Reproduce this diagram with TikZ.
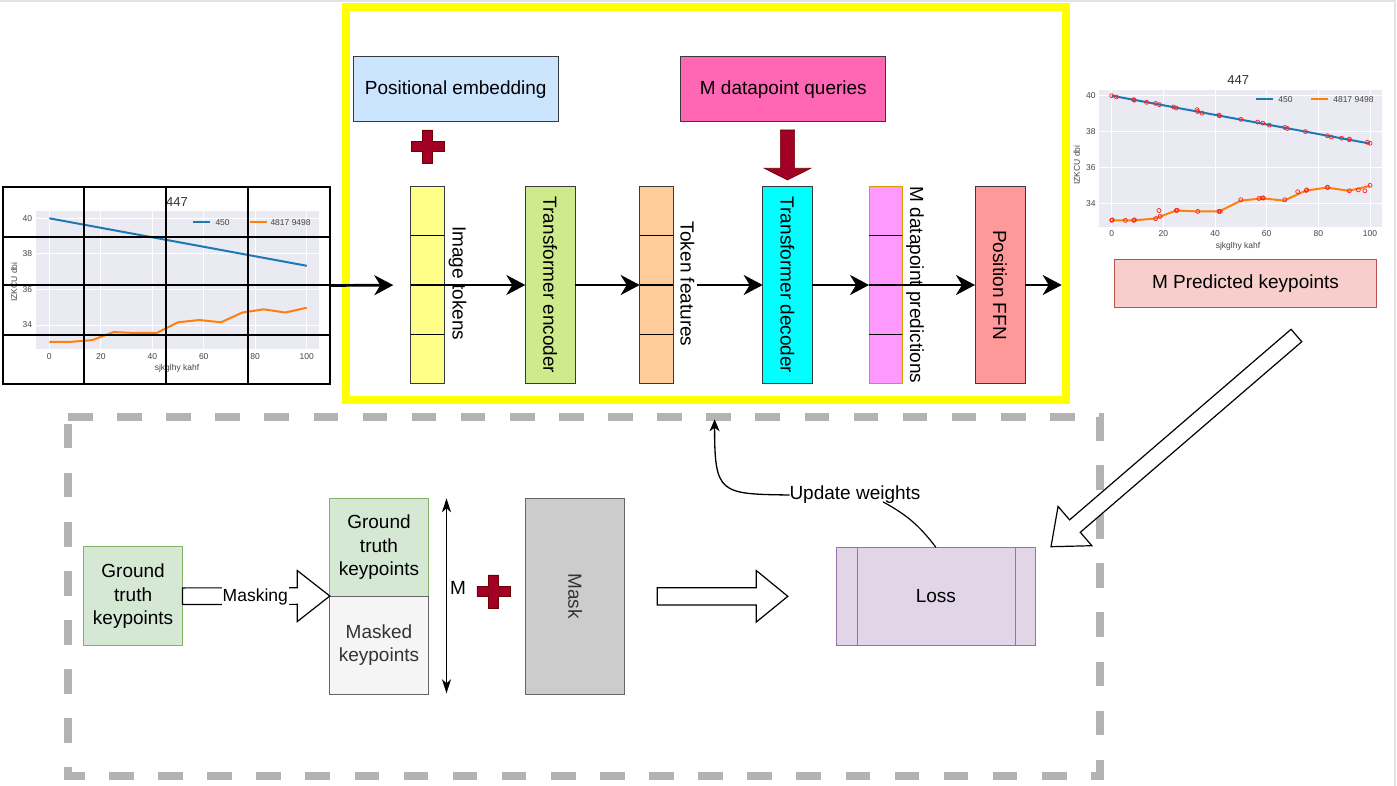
\documentclass[tikz,border=0pt]{standalone}
\usepackage{fontspec}
\setmainfont{Liberation Sans}
\usetikzlibrary{arrows.meta,calc}
\definecolor{strokegray}{HTML}{36393D}
\definecolor{posblue}{HTML}{CCE5FF}
\definecolor{qpink}{HTML}{FF66B3}
\definecolor{tokyellow}{HTML}{FFFF88}
\definecolor{encgreen}{HTML}{CDEB8B}
\definecolor{tforange}{HTML}{FFCC99}
\definecolor{deccyan}{HTML}{00FFFF}
\definecolor{predpink}{HTML}{FF99FF}
\definecolor{predline}{HTML}{D79B00}
\definecolor{ffnred}{HTML}{FF9999}
\definecolor{darkred}{HTML}{A20025}
\definecolor{darkredline}{HTML}{6F0000}
\definecolor{pkfill}{HTML}{F8CECC}
\definecolor{pkline}{HTML}{B85450}
\definecolor{gtfill}{HTML}{D5E8D4}
\definecolor{gtline}{HTML}{82B366}
\definecolor{mkfill}{HTML}{F5F5F5}
\definecolor{midgray}{HTML}{666666}
\definecolor{darktext}{HTML}{333333}
\definecolor{maskfill}{HTML}{CCCCCC}
\definecolor{lossfill}{HTML}{E1D5E7}
\definecolor{lossline}{HTML}{9673A6}
\definecolor{dashgray}{HTML}{B3B3B3}
\definecolor{plotbg}{HTML}{EAEAF2}
\definecolor{mplblue}{HTML}{1F77B4}
\definecolor{mplorange}{HTML}{FF7F0E}
\definecolor{ticktext}{HTML}{444444}
\definecolor{edgegray}{HTML}{E2E2E2}
\definecolor{frameyellow}{HTML}{FFFF00}
\definecolor{markred}{HTML}{FF2020}

\newcommand\blockarrow[6][blockstyle]{%
  \coordinate (ba-n) at ($(#3)!#6!(#2)$);
  \draw[#1] ($(#2)!#4!90:(#3)$) -- ($(ba-n)!#4!90:(#3)$) -- ($(ba-n)!#5!90:(#3)$) -- (#3)
    -- ($(ba-n)!#5!-90:(#3)$) -- ($(ba-n)!#4!-90:(#3)$) -- ($(#2)!#4!-90:(#3)$) -- cycle;
}
\newcommand\tokcol[5]{%
  \node[draw=#4, fill=#3, line width=1pt, minimum width=#5, minimum height=196.6pt] (#1) at (#2,285) {};
  \foreach \f in {0.25,0.5,0.75}
    \draw[line width=1.2pt] ($(#1.north west)!\f!(#1.south west)$) -- ($(#1.north east)!\f!(#1.south east)$);
}
\newcommand\redplus[2]{%
  \fill[darkred, draw=darkredline, line width=0.6pt]
    (#1-16.5,#2-5.2) -- (#1-5.2,#2-5.2) -- (#1-5.2,#2-16.5) -- (#1+5.2,#2-16.5) -- (#1+5.2,#2-5.2)
    -- (#1+16.5,#2-5.2) -- (#1+16.5,#2+5.2) -- (#1+5.2,#2+5.2) -- (#1+5.2,#2+16.5) -- (#1-5.2,#2+16.5)
    -- (#1-5.2,#2+5.2) -- (#1-16.5,#2+5.2) -- cycle;
}

\begin{document}
\begin{tikzpicture}[x=1pt,y=-1pt,
  every node/.style={inner sep=0pt, outer sep=0pt},
  lbl/.style={font=\fontsize{19}{23.3}\selectfont},
  box/.style={draw=strokegray, line width=1pt, lbl},
  flow/.style={line width=2.7pt, -{Stealth[length=19pt,width=20pt,inset=6pt]}},
  thinarrow/.style={line width=1.3pt, -{Stealth[length=12pt,width=10pt,inset=3.5pt]}},
  blockstyle/.style={draw=black, fill=white, line width=1.2pt, line join=miter},
  redblock/.style={draw=darkredline, fill=darkred, line width=0.6pt},
  ticklbl/.style={font=\fontsize{8.5}{10}\selectfont, text=ticktext},
  chartttl/.style={font=\fontsize{13}{15}\selectfont, text=darktext},
  gridw/.style={white, line width=0.9pt},
  series/.style={line width=2pt},
  legline/.style={line width=2.4pt},
  mk/.style={draw=markred, line width=0.7pt}
]
\useasboundingbox (0,0) rectangle (1397,786);
\fill[white] (0,0) rectangle (1397,786);
\draw[edgegray, line width=1.5pt] (0,1.2) -- (1394.8,1.2) -- (1394.8,786);

% ---------------- left chart ----------------
\node[draw=black, line width=1.5pt, minimum width=327pt, minimum height=197pt] (chartL) at (166.5,285.5) {};
\begin{scope}[shift={(49.3,929.5)}, x={(2.574pt,0pt)}, y={(0pt,17.78pt)}]
  \fill[plotbg] (-5.17,32.63) rectangle (104.78,40.41);
  \foreach \v in {0,20,...,100} \draw[gridw] (\v,32.63) -- (\v,40.41);
  \foreach \w in {34,36,38,40} \draw[gridw] (-5.17,\w) -- (104.78,\w);
  \draw[series, mplblue] (0,40) -- (100,37.33);
  \draw[series, mplorange] plot coordinates {(0,33.05) (8.3,33.05) (16.7,33.15) (25,33.6) (33.3,33.55) (41.7,33.55) (50,34.15) (58.3,34.28) (66.7,34.15) (75,34.7) (83.3,34.88) (91.7,34.7) (100,34.97)};
  \foreach \v in {0,20,...,100} \node[ticklbl] at (\v,32.22) {\v};
  \foreach \w in {34,36,38,40} \node[ticklbl, anchor=east] at (-6.7,\w) {\w};
\end{scope}
\node[chartttl] (ttlL) at (177,201.7) {447};
\node[ticklbl] (xlL) at (177,368) {sjkglhy kahf};
\node[ticklbl, rotate=90] (ylL) at (14,282) {IZKCU dbi};
\draw[legline, mplblue] (192.7,222.3) -- (210,222.3);
\node[ticklbl, anchor=west] (lg1L) at (215.5,222.3) {450};
\draw[legline, mplorange] (250,222.3) -- (266.7,222.3);
\node[ticklbl, anchor=west] (lg2L) at (270.5,222.3) {4817 9498};
\foreach \gx in {84,165.7,247.7} \draw[line width=2pt] (\gx,187) -- (\gx,384);
\foreach \gy in {236.7,285.5,335} \draw[line width=2pt] (3,\gy) -- (330,\gy);

% ---------------- right chart ----------------
\begin{scope}[shift={(1111.7,813.3)}, x={(2.583pt,0pt)}, y={(0pt,17.94pt)}]
  \fill[plotbg] (-4.8,32.70) rectangle (104.5,40.32);
  \foreach \v in {0,20,...,100} \draw[gridw] (\v,32.70) -- (\v,40.32);
  \foreach \w in {34,36,38,40} \draw[gridw] (-4.8,\w) -- (104.5,\w);
  \draw[series, mplblue] (0,40) -- (100,37.33);
  \draw[series, mplorange] plot coordinates {(0,33.05) (8.3,33.05) (16.7,33.15) (25,33.6) (33.3,33.55) (41.7,33.55) (50,34.15) (58.3,34.28) (66.7,34.15) (75,34.7) (83.3,34.88) (91.7,34.7) (100,34.97)};
  \foreach \p in {(0,40.0),(1.8,39.93),(8.5,39.78),(8.7,39.75),(13.5,39.63),(17,39.57),(18.5,39.5),(24,39.37),(25,39.31),(33,39.22),(33.3,39.12),(35,39.03),(41.5,38.92),(41.7,38.88),(50,38.68),(56.5,38.53),(58.5,38.47),(61,38.36),(67,38.23),(68,38.17),(75,38.0),(83.5,37.77),(85,37.7),(89,37.63),(92,37.58),(92,37.55),(99,37.4),(100,37.35),
    (0,33.05),(0.2,33.08),(5.3,33.05),(8.5,33.05),(8.8,33.08),(17,33.15),(18.3,33.6),(18.7,33.27),(25,33.6),(25.3,33.62),(33.3,33.55),(41.5,33.55),(42,33.55),(50,34.2),(57,34.27),(58.3,34.3),(58.7,34.3),(67,34.2),(72,34.65),(75.3,34.72),(75.5,34.75),(83.5,34.9),(83.6,34.88),(92,34.7),(95.5,34.75),(98,34.7),(100,35.0)}
    \draw[mk] \p circle[radius=2pt];
  \foreach \v in {0,20,...,100} \node[ticklbl] at (\v,32.33) {\v};
  \foreach \w in {34,36,38,40} \node[ticklbl, anchor=east] at (-6.2,\w) {\w};
\end{scope}
\node[chartttl] (ttlR) at (1238.3,80) {447};
\node[ticklbl] (xlR) at (1238,246.7) {sjkglhy kahf};
\node[ticklbl, rotate=90] (ylR) at (1076.7,165) {IZKCU dbi};
\draw[legline, mplblue] (1255.7,99.3) -- (1273.3,99.3);
\node[ticklbl, anchor=west] (lg1R) at (1278.3,99.3) {450};
\draw[legline, mplorange] (1310.7,99.3) -- (1328.3,99.3);
\node[ticklbl, anchor=west] (lg2R) at (1333.3,99.3) {4817 9498};

\node[box, draw=pkline, fill=pkfill, minimum width=262.4pt, minimum height=48.4pt] (pk) at (1245.5,283.5) {M Predicted keypoints};

% ---------------- yellow frame ----------------
\node[draw=frameyellow, line width=8pt, minimum width=720pt, minimum height=392pt] (frame) at (706,203.5) {};

\node[box, fill=posblue, minimum width=204.7pt, minimum height=65pt] (pos) at (455.7,89.2) {Positional embedding};
\node[box, fill=qpink, minimum width=204.7pt, minimum height=65pt] (q) at (783.3,89.2) {M datapoint queries};
\redplus{427.5}{146.5}

\tokcol{tok}{427.5}{tokyellow}{strokegray}{33.6pt}
\node[lbl, rotate=-90] (tok-t) at (457.5,283.3) {Image tokens};
\node[box, fill=encgreen, minimum width=49.7pt, minimum height=196.6pt] (enc) at (550.2,285) {};
\node[lbl, rotate=-90] (enc-t) at (enc) {Transformer encoder};
\tokcol{tf}{656.5}{tforange}{strokegray}{33.6pt}
\node[lbl, rotate=-90] (tf-t) at (687.5,284.2) {Token features};
\node[box, fill=deccyan, minimum width=49.6pt, minimum height=196.6pt] (dec) at (787.5,285) {};
\node[lbl, rotate=-90] (dec-t) at (dec) {Transformer decoder};
\tokcol{pr}{885.7}{predpink}{predline}{33.3pt}
\node[lbl, rotate=-90] (pr-t) at (915,285) {M datapoint predictions};
\node[box, fill=ffnred, minimum width=50pt, minimum height=196.6pt] (ffn) at (1000,285) {};
\node[lbl, rotate=-90] (ffn-t) at (ffn) {Position FFN};

\coordinate (ra-a) at ($(dec.north |- q.south)+(0,8.3)$);
\coordinate (ra-b) at ($(dec.north)+(0,-6.7)$);
\blockarrow[redblock]{ra-a}{ra-b}{7.15pt}{23.2pt}{11.7pt}

\draw[flow, shorten >=17.4pt] (chartL.east) -- (tok.west);
\draw[flow] (tok.east) -- (enc.west);
\draw[flow] (enc.east) -- (tf.west);
\draw[flow, shorten <=23.5pt] (tf.east) -- (dec.west);
\draw[flow] (dec.east) -- (pr.west);
\draw[flow] (pr.east) -- (ffn.west);
\draw[flow, shorten >=4.3pt] (ffn.east) -- (ffn.east -| frame.east);

% ---------------- bottom dashed region ----------------
\draw[dashgray, line width=8pt, dash pattern=on 24.6pt off 24.5pt] (68,416.7) -- (1099.8,416.7) -- (1099.8,775.5) -- (68,775.5) -- cycle;

\node[box, draw=gtline, fill=gtfill, minimum width=98.8pt, minimum height=99pt, align=center] (gt) at (133.1,596.2) {Ground\\truth\\keypoints};
\node[box, draw=gtline, fill=gtfill, minimum width=98.4pt, minimum height=97.7pt, align=center] (gtk) at (379,547.15) {Ground\\truth\\keypoints};
\node[box, draw=midgray, fill=mkfill, text=darktext, minimum width=98.4pt, minimum height=98.3pt, align=center] (masked) at (379,645.15) {Masked\\keypoints};
\node[box, draw=midgray, fill=maskfill, minimum width=98.7pt, minimum height=196pt] (mask) at (575.15,596.3) {};
\node[lbl, rotate=-90, text=darktext] (mask-t) at (mask) {Mask};
\node[box, draw=lossline, fill=lossfill, minimum width=198.6pt, minimum height=98pt] (loss) at (935.9,596.3) {Loss};
\draw[lossline, line width=1pt] ($(loss.north west)+(20.6,0)$) -- ($(loss.south west)+(20.6,0)$);
\draw[lossline, line width=1pt] ($(loss.north east)+(-20.2,0)$) -- ($(loss.south east)+(-20.2,0)$);

\blockarrow{gt.east}{gtk.south west}{8.3pt}{25.5pt}{32.5pt}
\node[fill=white, inner sep=1pt, font=\fontsize{17.5}{20}\selectfont] (mking) at (255.3,596.5) {Masking};

\draw[line width=1.3pt, {Stealth[length=14pt,width=9pt,inset=4pt]}-{Stealth[length=14pt,width=9pt,inset=4pt]}]
  ($(gtk.north east)+(18.3,0)$) -- ($(masked.south east)+(18.3,-1)$);
\node[lbl] (mlab) at (458,588.3) {M};
\redplus{493.4}{591.3}

\coordinate (ml-a) at ($(mask.east)!32.7pt!(loss.west)$);
\coordinate (ml-b) at ($(loss.west)!48.8pt!(mask.east)$);
\blockarrow{ml-a}{ml-b}{8.65pt}{25.8pt}{31.6pt}

\coordinate (dg-a) at (1296.4,335.5);
\coordinate (dg-b) at (1051,546.7);
\blockarrow{dg-a}{dg-b}{8.2pt}{25.9pt}{31.6pt}

\node[lbl] (uw) at (855,495) {Update weights};
\coordinate (uw-tip) at (714.6,419.3);
\draw[thinarrow] (uw.west) .. controls (720,494) and (714.5,494) .. (uw-tip);
\draw[line width=1.2pt] (loss.north) to[bend right=12] ($(uw.south)+(28,-2)$);
\end{tikzpicture}
\end{document}
